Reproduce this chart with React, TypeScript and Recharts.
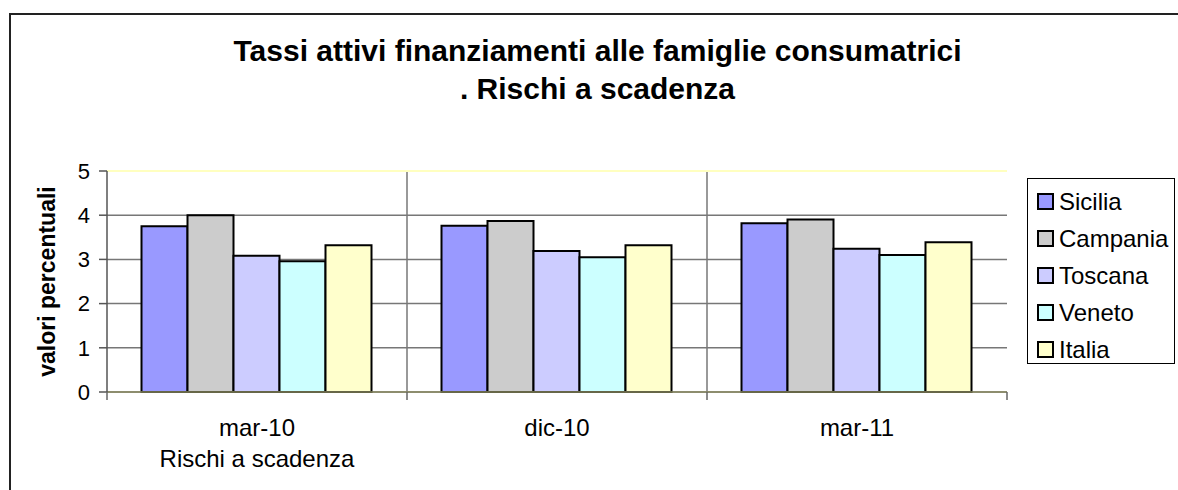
import React from 'react';
import { BarChart, Bar, XAxis, YAxis, CartesianGrid, ReferenceLine } from 'recharts';

const categories = ['mar-10', 'dic-10', 'mar-11'];
const seriesNames = ['Sicilia', 'Campania', 'Toscana', 'Veneto', 'Italia'];
const seriesColors = ['#9999ff', '#cccccc', '#ccccff', '#ccffff', '#ffffcc'];
const sicilia = [3.75, 3.76, 3.82];
const campania = [4.0, 3.87, 3.9];
const toscana = [3.08, 3.19, 3.24];
const veneto = [2.96, 3.05, 3.1];
const italia = [3.32, 3.32, 3.39];
const yTicks = [0, 1, 2, 3, 4, 5];

const seriesValues = [sicilia, campania, toscana, veneto, italia];

const data = categories.map((name, i) => {
  const row: Record<string, string | number> = { name };
  seriesNames.forEach((s, j) => { row[s] = seriesValues[j][i]; });
  return row;
});

const FONT = '"Liberation Sans", Arial, sans-serif';

const XTick = (props: any) => {
  const { x, y, payload, index } = props;
  const half = payload.offset || 150;
  return (
    <g>
      <line x1={x - half} y1={y - 8} x2={x - half} y2={y} stroke="#666" strokeWidth={1.5} />
      {index === categories.length - 1 && (
        <line x1={x + half} y1={y - 8} x2={x + half} y2={y} stroke="#666" strokeWidth={1.5} />
      )}
      <text x={x} y={y + 36} textAnchor="middle" fontFamily={FONT} fontSize={24} fill="#000">
        {payload.value}
      </text>
      {index === 0 && (
        <text x={x} y={y + 67} textAnchor="middle" fontFamily={FONT} fontSize={24} fill="#000">
          Rischi a scadenza
        </text>
      )}
    </g>
  );
};

const YLabel = (props: any) => {
  const { viewBox } = props;
  const cx = viewBox.x + 8;
  const cy = viewBox.y + viewBox.height / 2;
  return (
    <text x={cx} y={cy} transform={`rotate(-90 ${cx} ${cy})`} textAnchor="middle"
      fontFamily={FONT} fontSize={23} fontWeight="bold" fill="#000">
      valori percentuali
    </text>
  );
};

export default function App() {
  return (
    <div style={{ position: 'absolute', left: 0, top: 0, width: 1178, height: 490, overflow: 'hidden', background: '#fff' }}>
      <div style={{
        position: 'absolute', left: 9, top: 13, width: 1200, height: 520,
        borderLeft: '2px solid #222', borderTop: '2px solid #222',
      }} />
      <div style={{
        position: 'absolute', left: 0, top: 32, width: 1195, textAlign: 'center',
        fontFamily: FONT, fontWeight: 'bold', fontSize: 30, lineHeight: '38px', color: '#000',
      }}>
        Tassi attivi finanziamenti alle famiglie consumatrici<br />. Rischi a scadenza
      </div>
      <div style={{ position: 'absolute', left: 0, top: 0 }}>
        <BarChart width={1178} height={490} data={data}
          margin={{ top: 171, right: 171, bottom: 58, left: 47 }}
          barCategoryGap="11.5%" barGap={0}>
          <CartesianGrid stroke="#777" strokeWidth={1.5}
            verticalCoordinatesGenerator={({ offset }: any) =>
              [1, 2].map(k => offset.left + (offset.width * k) / categories.length)} />
          <ReferenceLine y={5} stroke="#ffffc0" strokeWidth={2} />
          <XAxis dataKey="name" tick={<XTick />} tickLine={false} axisLine={{ stroke: '#8a8a60', strokeWidth: 1.5 }}
            height={40} interval={0} />
          <YAxis domain={[0, 5]} ticks={yTicks} width={60} tickSize={8} tickMargin={9}
            axisLine={{ stroke: '#555', strokeWidth: 1.5 }} tickLine={{ stroke: '#555', strokeWidth: 1.5 }}
            tick={{ fill: '#000', fontSize: 22, fontFamily: FONT }}
            label={<YLabel />} />
          {seriesNames.map((s, j) => (
            <Bar key={s} dataKey={s} fill={seriesColors[j]} stroke="#000" strokeWidth={2} isAnimationActive={false} />
          ))}
        </BarChart>
      </div>
      <div style={{
        position: 'absolute', left: 1027, top: 178, width: 148, height: 186,
        border: '1px solid #000', padding: '4px 0 0 0', boxSizing: 'border-box', background: '#fff',
      }}>
        {seriesNames.map((s, j) => (
          <div key={s} style={{ display: 'flex', alignItems: 'center', height: 37, paddingLeft: 9 }}>
            <span style={{
              display: 'inline-block', width: 13, height: 13, background: seriesColors[j],
              border: '2px solid #000', marginRight: 5,
            }} />
            <span style={{ fontFamily: FONT, fontSize: 24, color: '#000' }}>{s}</span>
          </div>
        ))}
      </div>
    </div>
  );
}
